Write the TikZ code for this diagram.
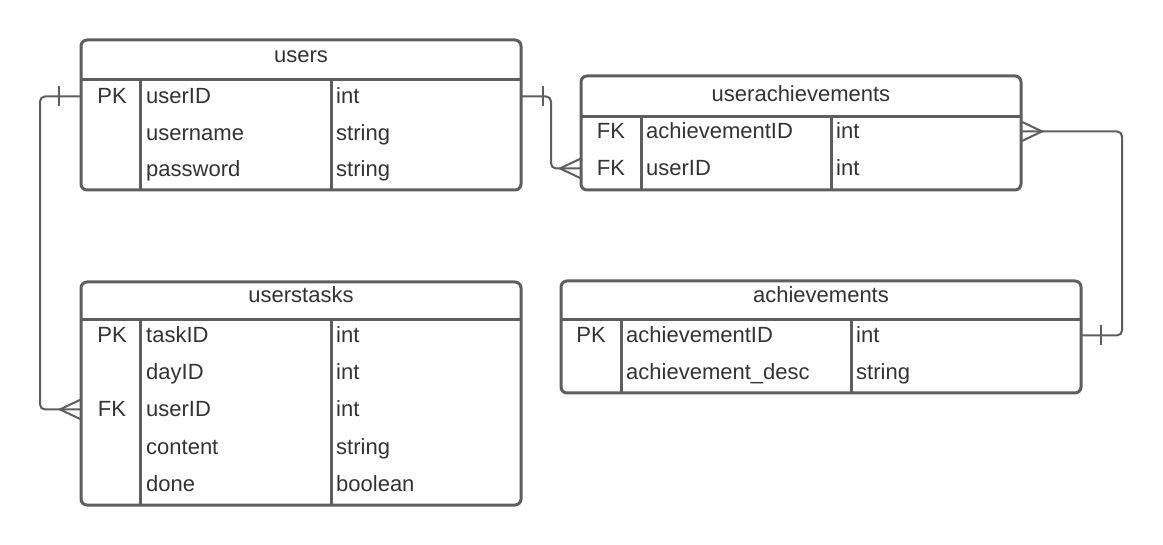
\documentclass[tikz,border=0pt]{standalone}
\usepackage{fontspec}
\setmainfont{Liberation Sans}

\definecolor{linegray}{HTML}{5E5E5E}
\definecolor{textgray}{HTML}{333333}

\begin{document}
\begin{tikzpicture}[
  x=1pt, y=-1pt,
  tbl/.style={draw=linegray, line width=3pt, rounded corners=6pt, outer sep=0pt, inner sep=0pt},
  sep/.style={draw=linegray, line width=3pt},
  cell/.style={font=\fontsize{22}{26}\selectfont, text=textgray, inner sep=0pt, anchor=base west},
  key/.style={cell, anchor=base},
  title/.style={cell, anchor=base},
  rel/.style={draw=linegray, line width=2pt},
]
\useasboundingbox[fill=white] (0,0) rectangle (1163,545);

% users
\node[tbl, minimum width=440pt, minimum height=150pt] (users) at (301,115) {};
\draw[sep] (81,80) -- (521,80);
\draw[sep] (140,80) -- (140,190);
\draw[sep] (331,80) -- (331,190);
\node[title] (users-title) at (301,63) {users};
\node[key] (users-pk) at (112,104) {PK};
\foreach \nm/\ty [count=\i] in {userID/int, username/string, password/string} {
  \node[cell] (users-n\i) at (146,{104+36.5*(\i-1)}) {\nm};
  \node[cell] (users-t\i) at (336,{104+36.5*(\i-1)}) {\ty};
}

% userachievements
\node[tbl, minimum width=440pt, minimum height=114pt] (userach) at (801,133) {};
\draw[sep] (581,117) -- (1021,117);
\draw[sep] (641,117) -- (641,190);
\draw[sep] (831,117) -- (831,190);
\node[title] (ua-title) at (801,102) {userachievements};
\node[key] (ua-fk1) at (611,139) {FK};
\node[key] (ua-fk2) at (611,176) {FK};
\foreach \nm/\ty [count=\i] in {achievementID/int, userID/int} {
  \node[cell] (ua-n\i) at (646,{139+37*(\i-1)}) {\nm};
  \node[cell] (ua-t\i) at (836,{139+37*(\i-1)}) {\ty};
}

% userstasks
\node[tbl, minimum width=440pt, minimum height=223pt] (userstasks) at (301,393.5) {};
\draw[sep] (81,320) -- (521,320);
\draw[sep] (140,320) -- (140,505);
\draw[sep] (331,320) -- (331,505);
\node[title] (tasks-title) at (301,303) {userstasks};
\node[key] (tasks-pk) at (112,343) {PK};
\node[key] (tasks-fk) at (112,417) {FK};
\foreach \nm/\ty [count=\i] in {taskID/int, dayID/int, userID/int, content/string, done/boolean} {
  \node[cell] (tasks-n\i) at (146,{343+37*(\i-1)}) {\nm};
  \node[cell] (tasks-t\i) at (336,{343+37*(\i-1)}) {\ty};
}

% achievements
\node[tbl, minimum width=520pt, minimum height=112pt] (ach) at (821,337) {};
\draw[sep] (561,320) -- (1081,320);
\draw[sep] (621,320) -- (621,393);
\draw[sep] (851,320) -- (851,393);
\node[title] (ach-title) at (821,303) {achievements};
\node[key] (ach-pk) at (591,343) {PK};
\foreach \nm/\ty [count=\i] in {achievementID/int, achievement\_desc/string} {
  \node[cell] (ach-n\i) at (626,{343+37*(\i-1)}) {\nm};
  \node[cell] (ach-t\i) at (856,{343+37*(\i-1)}) {\ty};
}

% users -- userstasks
\draw[rel, rounded corners=5pt] (users.west |- users-pk) -- ++(-41,0) |- (userstasks.west |- tasks-fk);
\draw[rel] (users.west |- users-pk) ++(-22,-10) -- ++(0,20);
\draw[rel] (userstasks.west |- tasks-fk) ++(0,-10) -- ++(-21,10) -- ++(21,10);

% users -- userachievements
\draw[rel, rounded corners=5pt] (users.east |- users-pk) -- ++(30,0) |- (userach.west |- ua-fk2);
\draw[rel] (users.east |- users-pk) ++(22,-10) -- ++(0,20);
\draw[rel] (userach.west |- ua-fk2) ++(0,-10) -- ++(-21,10) -- ++(21,10);

% userachievements -- achievements
\draw[rel, rounded corners=5pt] (userach.east |- ua-fk1) -- ++(101,0) |- (ach.east |- ach-pk);
\draw[rel] (userach.east |- ua-fk1) ++(0,-10) -- ++(21,10) -- ++(-21,10);
\draw[rel] (ach.east |- ach-pk) ++(20,-10) -- ++(0,20);

\end{tikzpicture}
\end{document}
